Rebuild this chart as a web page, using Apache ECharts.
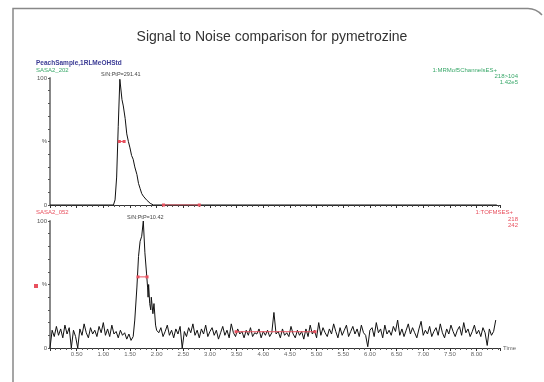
<!doctype html>
<html>
<head>
<meta charset="utf-8">
<script src="https://cdn.jsdelivr.net/npm/echarts@6/dist/echarts.min.js"></script>
<style>
  html, body { margin: 0; padding: 0; background: #fff; }
  #chart { width: 544px; height: 382px; }
</style>
</head>
<body>
<div id="chart"></div>
<script>
// top trace (SASA2_202), time in minutes, response in %
var topTimes  = [0.00, 1.19, 1.22, 1.25, 1.28, 1.31, 1.33, 1.35, 1.375, 1.41, 1.44, 1.47, 1.50, 1.53, 1.56, 1.59, 1.63, 1.66, 1.69, 1.72, 1.75, 1.81, 1.88, 1.94, 8.38];
var topValues = [0, 0, 4, 22, 62, 99, 100, 83, 78, 68, 56, 50, 45, 39, 36, 30, 24, 17, 13, 9, 7, 4, 1.3, 0, 0];

// bottom trace (SASA2_052): noise before the peak, the peak, noise after
var preStart = 0.04, noiseStep = 0.04;
var preNoise = [14, 9, 17, 10, 15, 8, 18, 11, 16, 0, 14, 9, 0, 15, 10, 19, 12, 8, 16,
  11, 14, 9, 17, 12, 20, 10, 15, 9, 18, 11, 13, 8, 14, 10, 12, 7, 11, 6];
var peakTimes  = [1.56, 1.59, 1.63, 1.66, 1.69, 1.72, 1.75, 1.78, 1.81, 1.83, 1.84, 1.85, 1.87, 1.89, 1.90, 1.93, 1.95, 1.98, 2.00];
var peakValues = [9, 22, 48, 72, 84, 88, 100, 75, 59, 48, 40, 50, 35, 30, 40, 27, 35, 18, 14];
var postStart = 2.04;
var postNoise = [
  12, 16, 9, 13, 18, 10, 14, 8, 15, 11,
  17, 0, 13, 9, 16, 12, 19, 10, 14, 8,
  15, 11, 18, 9, 13, 16, 10, 14, 7, 12,
  17, 10, 14, 8, 19, 12, 9, 15, 11, 13,
  8, 14, 10, 16, 9, 12, 11, 15, 8, 13,
  10, 14, 9, 12, 28, 11, 13, 8, 15, 10,
  12, 9, 17, 11, 8, 14, 10, 13, 7, 15,
  9, 18, 11, 14, 8, 20, 10, 16, 12, 9,
  15, 11, 19, 13, 8, 16, 10, 14, 18, 9,
  13, 17, 11, 15, 9, 18, 12, 10, 1, 14,
  16, 9, 20, 12, 15, 8, 18, 11, 14, 10,
  17, 13, 22, 10, 15, 9, 14, 19, 11, 16,
  12, 8, 15, 21, 10, 14, 11, 17, 9, 13,
  16, 10, 19, 12, 8, 15, 11, 18, 13, 9,
  14, 17, 10, 20, 12, 15, 9, 13, 18, 11,
  14, 9, 16, 12, 2, 15, 10, 13, 22];

// red markers: half height widths and integration limits
var topHalf = [[1.30, 50], [1.39, 50]];
var topInteg = [[2.13, 0], [2.80, 0]];
var botHalf = [[1.65, 56], [1.82, 56]];
var botInteg = [[3.49, 12.8], [4.97, 12.8]];

var xTickLabels = ['0.50','1.00','1.50','2.00','2.50','3.00','3.50','4.00','4.50','5.00','5.50','6.00','6.50','7.00','7.50','8.00'];

var font = 'Liberation Sans, Arial, sans-serif';
var red = '#e8505e', green = '#3aa86a';

var topData = topTimes.map(function (t, i) { return [t, topValues[i]]; });
var botData = [[0, 0]];
preNoise.forEach(function (v, i) { botData.push([+(preStart + i * noiseStep).toFixed(2), v]); });
peakTimes.forEach(function (t, i) { botData.push([t, peakValues[i]]); });
postNoise.forEach(function (v, i) { botData.push([+(postStart + i * noiseStep).toFixed(2), v]); });

function xAxis(idx, withLabels) {
  return {
    type: 'value', gridIndex: idx, min: 0, max: 8.44, interval: 0.5,
    axisLine: { lineStyle: { color: '#333', width: 1 } },
    axisTick: { length: 3, lineStyle: { color: '#333' } },
    minorTick: { show: true, splitNumber: 5, length: 2, lineStyle: { color: '#555' } },
    splitLine: { show: false },
    name: withLabels ? 'Time' : '',
    nameLocation: 'end', nameGap: 3,
    nameTextStyle: { fontSize: 6, color: '#666', fontFamily: font },
    axisLabel: {
      show: withLabels, fontSize: 6, color: '#666', fontFamily: font, margin: 3,
      showMaxLabel: false,
      formatter: function (v) {
        var s = v.toFixed(2);
        return xTickLabels.indexOf(s) >= 0 ? s : '';
      }
    }
  };
}
function yAxis(idx) {
  return {
    type: 'value', gridIndex: idx, min: 0, max: 100, interval: 10,
    axisLine: { show: true, lineStyle: { color: '#888', width: 2 } },
    axisTick: { show: true, length: 2, lineStyle: { color: '#555' } },
    splitLine: { show: false },
    axisLabel: {
      fontSize: 6, color: '#555', fontFamily: font, margin: 3,
      formatter: function (v) { return v === 100 ? '100' : v === 50 ? '%' : v === 0 ? '0' : ''; }
    }
  };
}
function marker(data, idx) {
  return {
    type: 'line', xAxisIndex: idx, yAxisIndex: idx, data: data,
    symbol: 'rect', symbolSize: 3, showSymbol: true,
    lineStyle: { color: red, width: 1 }, itemStyle: { color: red },
    animation: false, silent: true, z: 5
  };
}
function txt(x, y, s, color, size, align, bold) {
  return {
    type: 'text', x: x, y: y,
    style: { text: s, fill: color, fontSize: size, fontFamily: font, textAlign: align || 'left',
      textVerticalAlign: 'middle', fontWeight: bold ? 'bold' : 'normal' }
  };
}

var chart = echarts.init(document.getElementById('chart'), null, { renderer: 'canvas' });
chart.setOption({
  animation: false,
  title: {
    text: 'Signal to Noise comparison for pymetrozine', left: 'center', top: 25,
    textStyle: { fontSize: 14, fontWeight: 'normal', color: '#333', fontFamily: font }
  },
  grid: [
    { left: 50, top: 78, width: 450, height: 127 },
    { left: 50, top: 221, width: 450, height: 127 }
  ],
  xAxis: [xAxis(0, false), xAxis(1, true)],
  yAxis: [yAxis(0), yAxis(1)],
  series: [
    { type: 'line', xAxisIndex: 0, yAxisIndex: 0, data: topData, showSymbol: false,
      lineStyle: { color: '#111', width: 1 }, z: 3 },
    { type: 'line', xAxisIndex: 1, yAxisIndex: 1, data: botData, showSymbol: false,
      lineStyle: { color: '#111', width: 1 }, z: 3 },
    marker(topHalf, 0), marker(topInteg, 0), marker(botHalf, 1), marker(botInteg, 1)
  ],
  graphic: [
    { type: 'polyline', shape: { points: [[13, 382], [13, 8.5], [528, 8.5]] },
      style: { stroke: '#888', lineWidth: 1.5, fill: null } },
    { type: 'bezierCurve', shape: { x1: 528, y1: 8.5, x2: 542, y2: 15, cpx1: 536, cpy1: 8.5 },
      style: { stroke: '#888', lineWidth: 1.5, fill: null } },
    txt(36, 63, 'PeachSample,1RLMeOHStd', '#3b3b95', 6.5, 'left', true),
    txt(36, 70, 'SASA2_202', green, 6),
    txt(101, 74.5, 'S/N:PtP=291.41', '#444', 5.5),
    txt(497, 70, '1:MRMof5ChannelsES+', green, 6, 'right'),
    txt(518, 76, '218>104', green, 6, 'right'),
    txt(518, 82.5, '1.42e5', green, 6, 'right'),
    txt(36, 212, 'SASA2_052', red, 6),
    txt(127, 217.5, 'S/N:PtP=10.42', '#444', 5.5),
    txt(513, 212, '1:TOFMSES+', red, 6, 'right'),
    txt(518, 219, '218', red, 6, 'right'),
    txt(518, 225.5, '242', red, 6, 'right'),
    { type: 'rect', shape: { x: 34, y: 284, width: 4, height: 4 }, style: { fill: red } }
  ]
});
</script>
</body>
</html>
